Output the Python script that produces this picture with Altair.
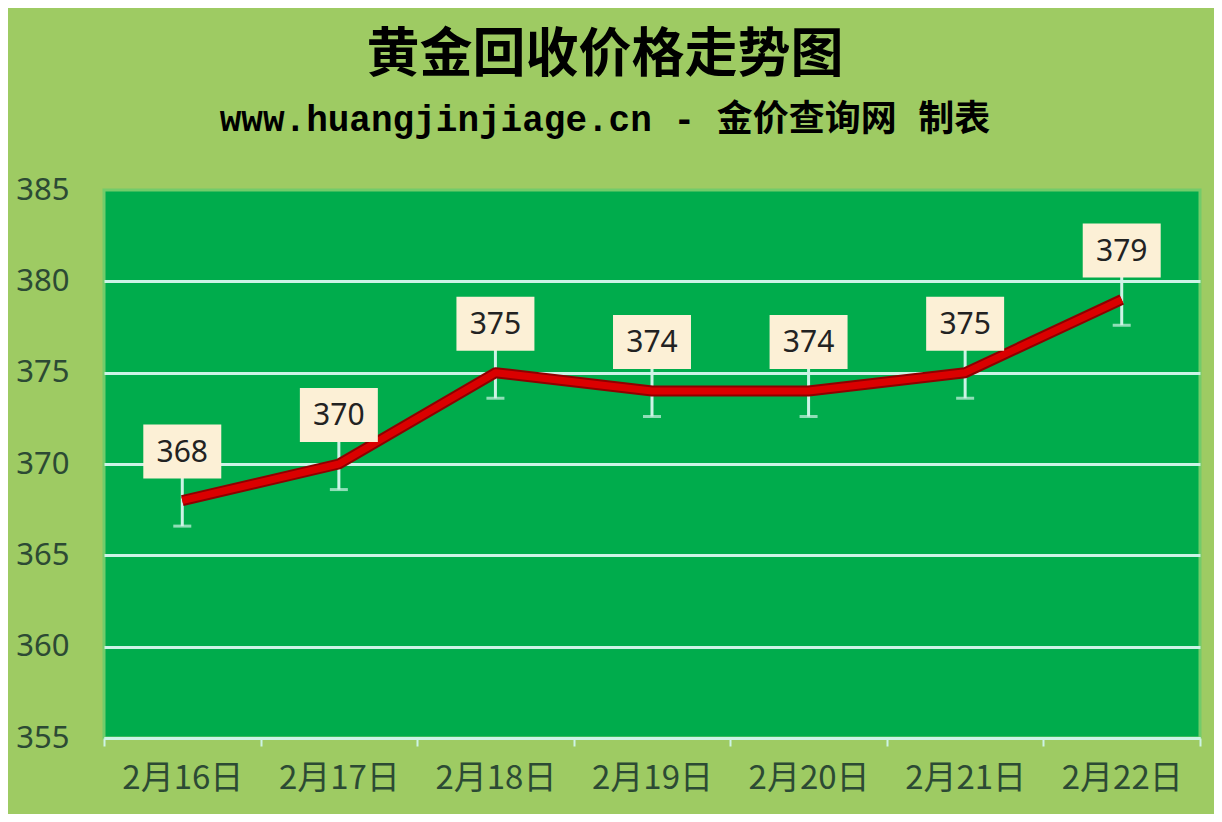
import altair as alt
import pandas as pd

dates = ["2月16日", "2月17日", "2月18日", "2月19日", "2月20日", "2月21日", "2月22日"]
prices = [368, 370, 375, 374, 374, 375, 379]
errs = [1.4, 1.4, 1.4, 1.4, 1.4, 1.4, 1.4]
y_ticks = [355, 360, 365, 370, 375, 380, 385]

df = pd.DataFrame({"date": dates, "price": prices, "err": errs})
df["lo"] = df["price"] - df["err"]
df["hi"] = df["price"] + df["err"]

LIGHT = "#CDF3E6"
xenc = alt.X("date:N", sort=dates, title=None,
             scale=alt.Scale(type="band", paddingInner=0, paddingOuter=0),
             axis=alt.Axis(labelAngle=0, labelFont="Noto Sans CJK SC", labelFontSize=33,
                           labelFontWeight="normal",
                           labelColor="#2C4A34", labelPadding=16, tickBand="extent",
                           ticks=True, tickSize=8, tickWidth=2, tickColor=LIGHT,
                           domain=True, domainColor=LIGHT, domainWidth=3, grid=False))
yscale = alt.Scale(domain=[355, 385], nice=False, zero=False)
yenc = alt.Y("price:Q", scale=yscale, title=None,
             axis=alt.Axis(values=y_ticks, labelFont="Noto Sans", labelFontSize=31,
                           labelColor="#2C4A34", labelPadding=35, ticks=False, domain=False,
                           grid=True, gridWidth=3,
                           gridColor=alt.condition("datum.value == 385", alt.value("transparent"), alt.value(LIGHT))))

base = alt.Chart(df)

err_rule = base.mark_rule(color=LIGHT, strokeWidth=3).encode(
    x=xenc, y=alt.Y("lo:Q", scale=yscale), y2="hi:Q")
cap = base.mark_tick(color=LIGHT, size=18, thickness=3, orient="horizontal").encode(
    x=xenc, y=alt.Y("lo:Q", scale=yscale))

line_dark = base.mark_line(color="#8E0000", strokeWidth=11, interpolate="linear",
                           strokeJoin="round").encode(x=xenc, y=yenc)
line_red = base.mark_line(color="#DA0000", strokeWidth=7, interpolate="linear",
                          strokeJoin="round").encode(x=xenc, y=yenc)

box = base.mark_point(
    shape="M-1.444,-1L1.444,-1L1.444,1L-1.444,1Z", size=2916, filled=True,
    fill="#FCF0D6", opacity=1, yOffset=-49
).encode(x=xenc, y=yenc)
label = base.mark_text(font="Noto Sans", fontSize=30, color="#222222", dy=-48, baseline="middle").encode(
    x=xenc, y=yenc, text="price:Q")

chart = alt.layer(err_rule, cap, line_dark, line_red, box, label).properties(
    width=1096, height=548,
    autosize=alt.AutoSizeParams(type="none"),
    padding={"left": 96, "top": 182, "right": 14, "bottom": 76},
    background="#9ECB63",
    title=alt.Title(
        "黄金回收价格走势图",
        subtitle="www.huangjinjiage.cn - 金价查询网 制表",
        font="Noto Sans CJK SC", fontSize=53, fontWeight="bold", color="#000000",
        subtitleFont="Liberation Mono, Noto Sans CJK SC", subtitleFontSize=36,
        subtitleFontWeight="bold", subtitleColor="#000000", subtitlePadding=20,
        anchor="middle", dx=-47, offset=36,
    ),
).configure_view(fill="#00AC4C", stroke="#72CC6A", strokeWidth=3)

chart.save("out.html", embed_options={"renderer": "svg", "actions": False})
